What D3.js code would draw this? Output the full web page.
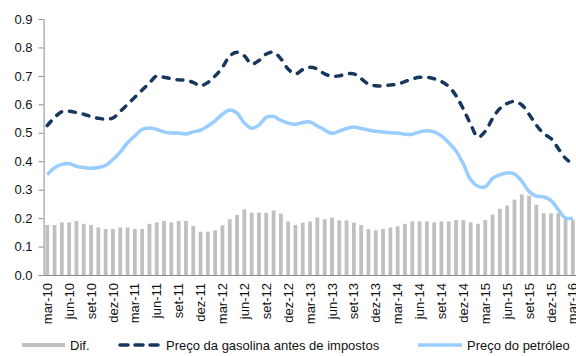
<!DOCTYPE html>
<html>
<head>
<meta charset="utf-8">
<script src="https://cdn.jsdelivr.net/npm/d3@7"></script>
<style>
  body { margin: 0; background: #fff; }
  svg { font-family: Arial, "Liberation Sans", sans-serif; }
</style>
</head>
<body>
<div id="chart"></div>
<script>
var months = [
  "mar-10","abr-10","mai-10","jun-10","jul-10","ago-10","set-10","out-10","nov-10","dez-10","jan-11","fev-11",
  "mar-11","abr-11","mai-11","jun-11","jul-11","ago-11","set-11","out-11","nov-11","dez-11","jan-12","fev-12",
  "mar-12","abr-12","mai-12","jun-12","jul-12","ago-12","set-12","out-12","nov-12","dez-12","jan-13","fev-13",
  "mar-13","abr-13","mai-13","jun-13","jul-13","ago-13","set-13","out-13","nov-13","dez-13","jan-14","fev-14",
  "mar-14","abr-14","mai-14","jun-14","jul-14","ago-14","set-14","out-14","nov-14","dez-14","jan-15","fev-15",
  "mar-15","abr-15","mai-15","jun-15","jul-15","ago-15","set-15","out-15","nov-15","dez-15","jan-16","fev-16",
  "mar-16"
];

// Dif. (bars)
var dif = [
  0.176,0.176,0.185,0.185,0.19,0.18,0.176,0.167,0.162,0.162,0.167,0.167,
  0.162,0.162,0.18,0.185,0.19,0.185,0.19,0.19,0.172,0.152,0.152,0.157,
  0.175,0.196,0.211,0.231,0.219,0.219,0.219,0.227,0.216,0.188,0.176,0.184,
  0.188,0.202,0.196,0.202,0.192,0.192,0.184,0.176,0.161,0.157,0.162,0.167,
  0.171,0.18,0.188,0.188,0.188,0.185,0.188,0.188,0.193,0.193,0.185,0.18,
  0.193,0.212,0.233,0.244,0.265,0.283,0.279,0.247,0.217,0.217,0.217,0.197,
  0.195
];

// Preço da gasolina antes de impostos (dashed)
var gasolina = [
  0.525,0.554,0.574,0.576,0.571,0.565,0.557,0.551,0.548,0.552,0.575,0.60,
  0.625,0.65,0.675,0.70,0.695,0.69,0.686,0.685,0.677,0.665,0.677,0.70,
  0.73,0.77,0.783,0.77,0.742,0.754,0.777,0.783,0.76,0.724,0.707,0.722,
  0.73,0.724,0.707,0.699,0.70,0.707,0.707,0.69,0.671,0.665,0.665,0.668,
  0.671,0.68,0.689,0.695,0.695,0.69,0.68,0.663,0.63,0.583,0.53,0.485,
  0.505,0.55,0.585,0.603,0.61,0.598,0.565,0.527,0.497,0.48,0.445,0.41,
  0.39
];

// Preço do petróleo (solid)
var petroleo = [
  0.353,0.377,0.389,0.392,0.382,0.378,0.375,0.378,0.385,0.406,0.432,0.465,
  0.489,0.512,0.517,0.512,0.503,0.499,0.499,0.496,0.503,0.509,0.524,0.542,
  0.565,0.58,0.569,0.534,0.516,0.527,0.554,0.557,0.544,0.534,0.53,0.536,
  0.538,0.524,0.51,0.498,0.506,0.515,0.52,0.515,0.51,0.505,0.503,0.50,
  0.499,0.495,0.495,0.503,0.507,0.503,0.489,0.465,0.436,0.39,0.335,0.312,
  0.31,0.34,0.352,0.359,0.355,0.33,0.294,0.277,0.275,0.262,0.23,0.20,
  0.20
];

var yTicks = [0, 0.1, 0.2, 0.3, 0.4, 0.5, 0.6, 0.7, 0.8, 0.9];
var xTickLabels = months.filter(function(d, i) { return i % 3 === 0; });

var width = 576, height = 356;
var plotLeft = 43.6, plotRight = 576.5, plotTop = 19, plotBottom = 275;

var svg = d3.select("#chart").append("svg")
    .attr("width", width)
    .attr("height", height);

var x = d3.scaleBand()
    .domain(months)
    .range([plotLeft, plotRight])
    .paddingInner(0.48)
    .paddingOuter(0.24);

var y = d3.scaleLinear()
    .domain([0, 0.9])
    .range([plotBottom, plotTop]);

function cx(d, i) { return x(months[i]) + x.bandwidth() / 2; }

// bars
svg.append("g").selectAll("rect")
    .data(dif)
    .enter().append("rect")
    .attr("x", function(d, i) { return x(months[i]); })
    .attr("y", function(d) { return y(d); })
    .attr("width", x.bandwidth())
    .attr("height", function(d) { return y(0) - y(d); })
    .attr("fill", "#c0c0c0");

// x axis
var xAxis = svg.append("g")
    .attr("transform", "translate(0," + plotBottom + ")")
    .call(d3.axisBottom(x).tickValues(xTickLabels).tickSize(0).tickSizeOuter(0));
xAxis.select(".domain").attr("stroke", "#8c8c8c");
xAxis.selectAll("text")
    .attr("transform", "rotate(-90)")
    .attr("text-anchor", "end")
    .attr("x", -8)
    .attr("y", 0)
    .attr("dy", "0.35em")
    .attr("font-size", 13)
    .attr("fill", "#111");

// y axis
var yAxis = svg.append("g")
    .attr("transform", "translate(" + plotLeft + ",0)")
    .call(d3.axisLeft(y).tickValues(yTicks).tickFormat(d3.format(".1f")).tickSize(5).tickSizeOuter(0).tickPadding(6));
yAxis.select(".domain").attr("stroke", "#8c8c8c");
yAxis.selectAll(".tick line").attr("stroke", "#8c8c8c");
yAxis.selectAll("text").attr("font-size", 13).attr("fill", "#111");

// lines
var line = d3.line()
    .x(function(d, i) { return cx(d, i); })
    .y(function(d) { return y(d); })
    .curve(d3.curveCatmullRom.alpha(0.5));

svg.append("path")
    .datum(petroleo)
    .attr("d", line)
    .attr("fill", "none")
    .attr("stroke", "#99ccff")
    .attr("stroke-width", 3.5)
    .attr("stroke-linejoin", "round");

svg.append("path")
    .datum(gasolina)
    .attr("d", line)
    .attr("fill", "none")
    .attr("stroke", "#17375e")
    .attr("stroke-width", 3.5)
    .attr("stroke-linecap", "round")
    .attr("stroke-dasharray", "6,8");

// legend
var legendY = 345;
var lg = svg.append("g").attr("font-size", 13).attr("fill", "#111");

lg.append("rect")
    .attr("x", 22).attr("y", legendY - 2)
    .attr("width", 43).attr("height", 4)
    .attr("fill", "#c0c0c0");
lg.append("text").attr("x", 70).attr("y", legendY).attr("dy", "0.35em").text("Dif.");

lg.append("line")
    .attr("x1", 120).attr("x2", 161)
    .attr("y1", legendY).attr("y2", legendY)
    .attr("stroke", "#17375e").attr("stroke-width", 3.5)
    .attr("stroke-linecap", "round").attr("stroke-dasharray", "8,7");
lg.append("text").attr("x", 166).attr("y", legendY).attr("dy", "0.35em").text("Preço da gasolina antes de impostos");

lg.append("line")
    .attr("x1", 418).attr("x2", 462)
    .attr("y1", legendY).attr("y2", legendY)
    .attr("stroke", "#99ccff").attr("stroke-width", 3.5);
lg.append("text").attr("x", 467).attr("y", legendY).attr("dy", "0.35em").text("Preço do petróleo");
</script>
</body>
</html>
